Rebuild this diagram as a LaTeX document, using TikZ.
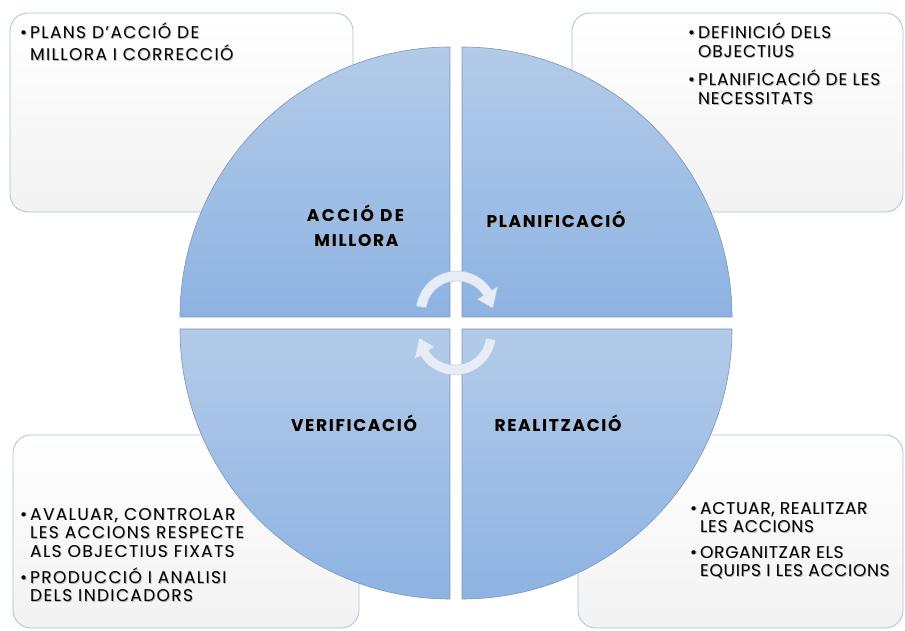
\documentclass[tikz,border=0pt]{standalone}
\usepackage{fontspec}
\setmainfont{Poppins}
\usetikzlibrary{calc}
\definecolor{qtop}{HTML}{B3CBE9}
\definecolor{qbot}{HTML}{8DB3E2}
\definecolor{qline}{HTML}{7F95B3}
\definecolor{boxline}{HTML}{A9C1DE}
\definecolor{arrfill}{HTML}{E6EDF6}
\definecolor{arrline}{HTML}{B8C9DE}
\tikzset{
  infobox/.style={draw=boxline, line width=0.8pt, rounded corners=18pt, top color=white, bottom color=black!5},
  quad/.style={draw=qline, line width=0.6pt, top color=qtop, bottom color=qbot},
  cyc/.style={fill=arrfill, draw=arrline, line width=0.5pt},
  btxt/.style={inner sep=0pt, font=\fontsize{17}{18.5}\selectfont},
  lbl/.style={inner sep=0pt, anchor=base, font=\bfseries\fontsize{17}{20}\selectfont\addfontfeature{LetterSpace=10}},
  shd/.style={text=black!30}
}
\newcommand\bu{\textbullet}
\newcommand\bultext[5]{%
  \node[btxt, shd, anchor=base west] (#1s) at (#2+0.8,#3-0.8) {\addfontfeature{LetterSpace=#4}\begin{tabular}[t]{@{}l@{\hspace{3pt}}l@{}}#5\end{tabular}};
  \node[btxt, anchor=base west] (#1) at (#2,#3) {\addfontfeature{LetterSpace=#4}\begin{tabular}[t]{@{}l@{\hspace{3pt}}l@{}}#5\end{tabular}};}
\newcommand\lbltext[4]{%
  \node[lbl, shd] (#1s) at (#2+0.9,#3-0.9) {#4};
  \node[lbl] (#1) at (#2,#3) {#4};}
\begin{document}
\begin{tikzpicture}[x=1pt,y=1pt]
\useasboundingbox (0,0) rectangle (905,630);
\fill[white] (0,0) rectangle (905,630);
% boxes
\path[infobox] (10,418) rectangle (353,617);
\path[infobox] (572,418) rectangle (903,617);
\path[infobox] (13,2) rectangle (359,195);
\path[infobox] (578,2) rectangle (903,195);
% quadrants
\path[quad] (450,313) -- (180,313) arc[start angle=180,end angle=90,radius=270] -- cycle;
\path[quad] (462,313) -- (462,583) arc[start angle=90,end angle=0,radius=270] -- cycle;
\path[quad] (450,301) -- (180,301) arc[start angle=180,end angle=270,radius=270] -- cycle;
\path[quad] (462,301) -- (732,301) arc[start angle=0,end angle=-90,radius=270] -- cycle;
% cycle arrows
\begin{scope}[shift={(457,318)}]
\path[cyc] (172:41) arc[start angle=172,end angle=32,radius=41] -- (32:48) -- (6:36) -- (32:24) -- (32:31) arc[start angle=32,end angle=172,radius=31] -- cycle;
\end{scope}
\begin{scope}[shift={(455,296)},rotate=180]
\path[cyc] (172:41) arc[start angle=172,end angle=32,radius=41] -- (32:48) -- (6:36) -- (32:24) -- (32:31) arc[start angle=32,end angle=172,radius=31] -- cycle;
\end{scope}
% labels
\lbltext{acca}{355.5}{408}{\addfontfeature{LetterSpace=15}ACCIÓ DE}
\lbltext{accb}{356.5}{383}{MILLORA}
\lbltext{pla}{556}{402}{PLANIFICACIÓ}
\lbltext{ver}{354}{199}{VERIFICACIÓ}
\lbltext{rea}{558}{199}{REALITZACIÓ}
% box texts
\bultext{ttl}{20}{591}{8}{\bu & PLANS D’ACCIÓ DE\\ & MILLORA I CORRECCIÓ}
\bultext{ttr}{688}{591}{5}{\bu & DEFINICIÓ DELS\\ & OBJECTIUS\\[7pt] \bu & PLANIFICACIÓ DE LES\\ & NECESSITATS}
\bultext{tbl}{20}{110}{8}{\bu & AVALUAR, CONTROLAR\\ & LES ACCIONS RESPECTE\\ & ALS OBJECTIUS FIXATS\\[5pt] \bu & PRODUCCIÓ I ANALISI\\ & DELS INDICADORS}
\bultext{tbr}{690}{116}{4}{\bu & ACTUAR, REALITZAR\\ & LES ACCIONS\\[7pt] \bu & ORGANITZAR ELS\\ & EQUIPS I LES ACCIONS}
\end{tikzpicture}
\end{document}
